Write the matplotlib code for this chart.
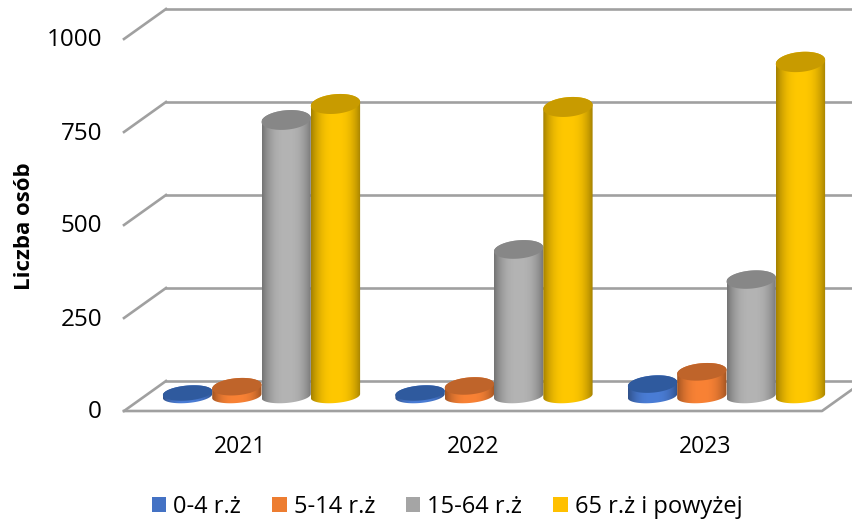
import matplotlib
matplotlib.use("Agg")
import matplotlib.pyplot as plt
import numpy as np
from matplotlib.patches import Patch, Polygon
from matplotlib.colors import to_rgb

years = ["2021", "2022", "2023"]
groups = ["0-4 r.ż", "5-14 r.ż", "15-64 r.ż", "65 r.ż i powyżej"]
v_0_4 = [8, 8, 32]
v_5_14 = [25, 27, 65]
v_15_64 = [742, 394, 313]
v_65 = [785, 777, 898]
y_ticks = [0, 250, 500, 750, 1000]

colors = ["#4472C4", "#ED7D31", "#A5A5A5", "#FFC000"]
mid_colors = ["#4A7DD6", "#F98235", "#B4B4B4", "#FFC800"]
top_colors = ["#2F5A9E", "#BF642A", "#878787", "#C89B00"]

# scale of the picture
W, H = 853, 521
PX_X = 232.5      # pixels per category
PX_Y = 0.372      # pixels per unit
DX = 21 / PX_X    # half depth of the floor
DY = 15 / PX_Y
BAR = 49.3 / PX_X
A = BAR / 2
B0 = 7.0 / PX_Y
SKEW = 2.0 / PX_Y


def ellipse(cx, cy, b, t):
    return cx + A * np.cos(t), cy + b * np.sin(t) + SKEW * np.cos(t)


def cylinder(ax, cx, val, mid, top):
    # top ellipse opens up a bit with height
    b = (7 + 1.5 * min(val / 25, 1) + 1.5 * val / 900) / PX_Y
    t = np.linspace(np.pi, 2 * np.pi, 60)
    xb, yb = ellipse(cx, 0, B0, t)
    t2 = np.linspace(0, np.pi, 60)
    xt, yt = ellipse(cx, val, b, t2)
    body = np.column_stack([np.r_[xb, xt], np.r_[yb, yt]])
    s = np.linspace(0, 1, 120)
    shade = 1 - 0.36 * np.abs(2 * s - 1) ** 2.6
    grad = np.outer(shade, to_rgb(mid)).reshape(1, -1, 3)
    im = ax.imshow(grad, extent=[cx - A, cx + A, -B0 - SKEW, val + b + SKEW],
                   aspect="auto", zorder=3, interpolation="bilinear")
    clip = Polygon(body, closed=True, transform=ax.transData)
    im.set_clip_path(clip)
    t3 = np.linspace(0, 2 * np.pi, 120)
    xe, ye = ellipse(cx, val, b, t3)
    ax.fill(xe, ye, color=top, lw=0, zorder=3)


fig = plt.figure(figsize=(W / 100, H / 100), dpi=100)
ax = fig.add_axes([0, 0, 1, 1])
ax.axis("off")
xlim = (-261.5 / PX_X, (W - 261.5) / PX_X)
ylim = (-(H - 396) / PX_Y, 396 / PX_Y)

# walls and floor
grid = "#A0A0A0"
x_left = (124 + 21 - 261.5) / PX_X
x_right = (822 + 21 - 261.5) / PX_X
for v in y_ticks:
    front = v - DY
    back = v + DY
    ax.plot([x_left - DX, x_left + DX], [front, back], color=grid, lw=1.9, zorder=1)
    ax.plot([x_left + DX, xlim[1]], [back, back], color=grid, lw=1.9, zorder=1)
ax.plot([x_left - DX, x_right - DX, x_right + DX], [-DY, -DY, DY], color=grid, lw=1.9, zorder=1)

series = [v_0_4, v_5_14, v_15_64, v_65]
for i in range(len(years)):
    for j, vals in enumerate(series):
        cx = i + (j - 1.5) * BAR
        cylinder(ax, cx, vals[i], mid_colors[j], top_colors[j])

ax.set_xlim(xlim)
ax.set_ylim(ylim)

font = "Open Sans"
for v in y_ticks:
    ax.text((102 - 261.5) / PX_X, v - DY - 1.5 / PX_Y, str(v), ha="right", va="center",
            fontsize=17.5, family=font, color="black")
for i, y in enumerate(years):
    ax.text(i - DX, -(447 - 396) / PX_Y, y, ha="center", va="center",
            fontsize=16.5, family=font, color="black")
ax.text((24 - 261.5) / PX_X, (396 - 226) / PX_Y, "Liczba osób", rotation=90,
        ha="center", va="center", fontsize=16, fontweight="bold", family=font)

handles = [Patch(color=c, lw=0) for c in colors]
ax.legend(handles, groups, ncol=4, loc="center", frameon=False,
          bbox_to_anchor=(447 / W, 1 - 507 / H), prop={"family": font, "size": 17},
          handlelength=0.62, handleheight=0.63, handletextpad=0.3, columnspacing=1.3)

fig.savefig("out.png", dpi=100)
